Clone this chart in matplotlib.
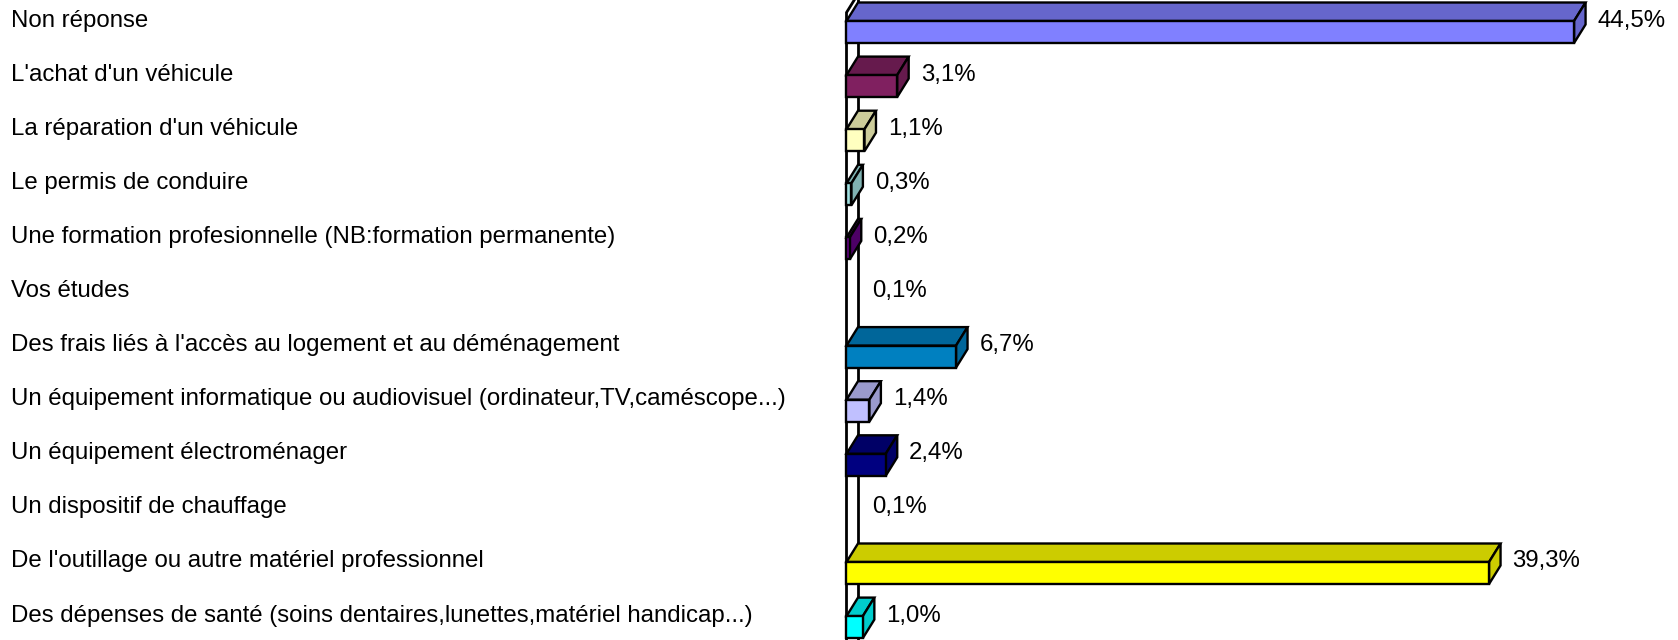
import matplotlib
matplotlib.use("Agg")
import matplotlib.pyplot as plt
from matplotlib.patches import Polygon
import matplotlib.transforms as mtransforms

categories = [
    "Non réponse",
    "L'achat d'un véhicule",
    "La réparation d'un véhicule",
    "Le permis de conduire",
    "Une formation profesionnelle (NB:formation permanente)",
    "Vos études",
    "Des frais liés à l'accès au logement et au déménagement",
    "Un équipement informatique ou audiovisuel (ordinateur,TV,caméscope...)",
    "Un équipement électroménager",
    "Un dispositif de chauffage",
    "De l'outillage ou autre matériel professionnel",
    "Des dépenses de santé (soins dentaires,lunettes,matériel handicap...)",
]
values = [44.5, 3.1, 1.1, 0.3, 0.2, 0.1, 6.7, 1.4, 2.4, 0.1, 39.3, 1.0]
value_labels = ["44,5%", "3,1%", "1,1%", "0,3%", "0,2%", "0,1%",
                "6,7%", "1,4%", "2,4%", "0,1%", "39,3%", "1,0%"]
colors = ["#8080FF", "#802060", "#FFFFC0", "#A0E0E0", "#600080", "#FF8080",
          "#0080C0", "#C0C0FF", "#000080", "#FF00FF", "#FFFF00", "#00FFFF"]

W, H = 1678, 640
fig = plt.figure(figsize=(W / 100, H / 100), dpi=100)
ax = fig.add_axes([0, 0, 1, 1])
ax.set_axis_off()

# pixel geometry of the value axis / category axis
x0_px = 858.0      # back-wall position of value 0
px_per_unit = 16.35
y0_px = 32.0       # centre of first bar front face
row_px = 54.1
ax.set_xlim(-x0_px / px_per_unit, (W - x0_px) / px_per_unit)
ax.set_ylim((H - y0_px) / row_px, -y0_px / row_px)

dx = 11.5 / px_per_unit     # 3-D depth, horizontal
dy = 18.5 / row_px          # 3-D depth, vertical
h = 22.0 / row_px           # bar front-face height


def shade(c, f):
    r, g, b = matplotlib.colors.to_rgb(c)
    return (r * f, g * f, b * f)


# wall
n = len(categories)
ybot = n + 1
ax.plot([0, 0], [ybot, -2], color="black", lw=2.0, zorder=1)
wall_top = -0.36
ax.plot([-dx, -dx, 0], [ybot, wall_top, wall_top - dy], color="black", lw=2.0,
        zorder=1, solid_joinstyle="miter")

lw = 1.7
for i, (v, c) in enumerate(zip(values, colors)):
    yt = i - h / 2
    yb = i + h / 2
    if v >= 0.15:
        front = Polygon([(-dx, yt), (v - dx, yt), (v - dx, yb), (-dx, yb)],
                        closed=True, facecolor=c, edgecolor="black", lw=lw,
                        joinstyle="miter", zorder=3)
        top = Polygon([(-dx, yt), (v - dx, yt), (v, yt - dy), (0, yt - dy)],
                      closed=True, facecolor=shade(c, 0.8), edgecolor="black",
                      lw=lw, joinstyle="miter", zorder=3)
        side = Polygon([(v - dx, yt), (v, yt - dy), (v, yb - dy), (v - dx, yb)],
                       closed=True, facecolor=shade(c, 0.8), edgecolor="black",
                       lw=lw, joinstyle="miter", zorder=3)
        for p in (top, side, front):
            ax.add_patch(p)

# labels
font = dict(family=["Liberation Sans", "DejaVu Sans"], fontsize=17.3, color="black")
trans = mtransforms.blended_transform_factory(fig.transFigure, ax.transData)
base_off = -5.5 / row_px
for i, (cat, v, lab) in enumerate(zip(categories, values, value_labels)):
    ax.text(11 / W, i + base_off, cat, transform=trans, ha="left",
            va="baseline", **font)
    ax.text(v + 12 / px_per_unit, i + base_off, lab, ha="left",
            va="baseline", **font)

fig.savefig("out.png", dpi=100)
